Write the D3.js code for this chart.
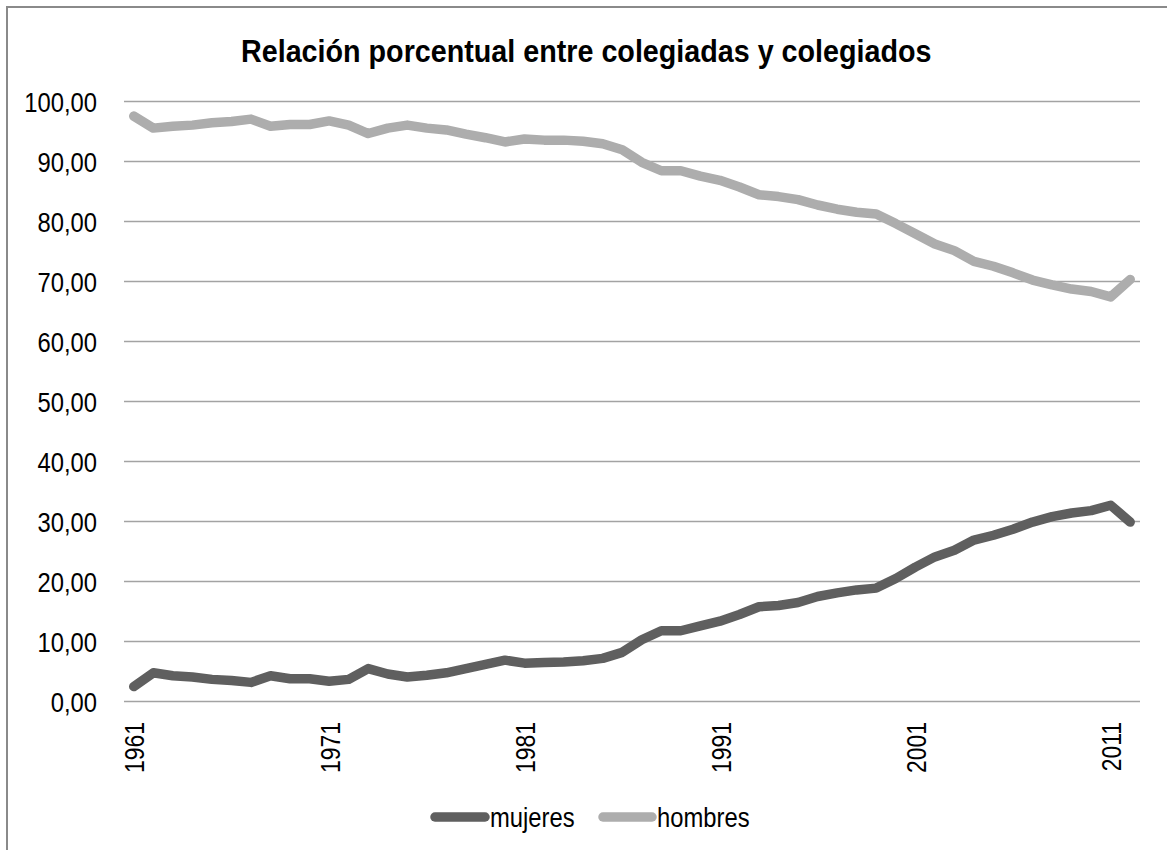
<!DOCTYPE html>
<html>
<head>
<meta charset="utf-8">
<script src="https://cdn.jsdelivr.net/npm/d3@7"></script>
<style>
  html, body { margin: 0; padding: 0; background: #fff; }
  svg { display: block; }
  text { font-family: "Liberation Sans", Arial, sans-serif; fill: #000; }
</style>
</head>
<body>
<div id="chart"></div>
<script>
// ====================
// Data
// ====================
const years = [1961, 1962, 1963, 1964, 1965, 1966, 1967, 1968, 1969, 1970,
               1971, 1972, 1973, 1974, 1975, 1976, 1977, 1978, 1979, 1980,
               1981, 1982, 1983, 1984, 1985, 1986, 1987, 1988, 1989, 1990,
               1991, 1992, 1993, 1994, 1995, 1996, 1997, 1998, 1999, 2000,
               2001, 2002, 2003, 2004, 2005, 2006, 2007, 2008, 2009, 2010,
               2011, 2012];

const mujeres = [2.4, 4.7, 4.2, 4.0, 3.6, 3.4, 3.1, 4.2, 3.7, 3.7,
                 3.3, 3.6, 5.4, 4.5, 4.0, 4.3, 4.7, 5.4, 6.1, 6.8,
                 6.3, 6.4, 6.5, 6.7, 7.1, 8.1, 10.2, 11.7, 11.7, 12.5,
                 13.3, 14.4, 15.7, 15.9, 16.4, 17.4, 18.0, 18.5, 18.8, 20.4,
                 22.3, 24.0, 25.1, 26.8, 27.6, 28.6, 29.8, 30.7, 31.3, 31.7,
                 32.6, 29.8];

const hombres = [97.4, 95.4, 95.7, 95.9, 96.3, 96.5, 96.9, 95.7, 96.0, 96.0,
                 96.6, 95.9, 94.5, 95.4, 95.9, 95.4, 95.1, 94.4, 93.8, 93.1,
                 93.6, 93.4, 93.4, 93.2, 92.8, 91.8, 89.7, 88.3, 88.3, 87.4,
                 86.7, 85.6, 84.3, 84.0, 83.5, 82.6, 81.9, 81.4, 81.1, 79.5,
                 77.8, 76.1, 75.0, 73.2, 72.4, 71.3, 70.1, 69.3, 68.6, 68.2,
                 67.3, 70.2];

const yTicks = [0, 10, 20, 30, 40, 50, 60, 70, 80, 90, 100];
const xTickYears = [1961, 1971, 1981, 1991, 2001, 2011];

const seriesNames = ["mujeres", "hombres"];
const seriesColors = ["#5f5f5f", "#adadad"];

const titleText = "Relación porcentual entre colegiadas y colegiados";

// ====================
// Layout
// ====================
const width = 1167, height = 850;
const plot = { left: 124, right: 1140, top: 100.5, bottom: 701 };
const narrow = 0.85;   // labels look like a condensed face

const svg = d3.select("#chart")
    .append("svg")
    .attr("width", width)
    .attr("height", height);

// frame (runs off the right / bottom edges like the source)
svg.append("rect")
    .attr("x", 7).attr("y", 7)
    .attr("width", 1200).attr("height", 900)
    .attr("fill", "#fff")
    .attr("stroke", "#8a8a8a")
    .attr("stroke-width", 2);

// scales
const x = d3.scaleBand()
    .domain(years)
    .range([plot.left, plot.right]);

const y = d3.scaleLinear()
    .domain([0, 100])
    .range([plot.bottom, plot.top]);

const cx = d => x(d) + x.bandwidth() / 2;

// number format with comma decimals
const esLocale = d3.formatLocale({ decimal: ",", thousands: ".", grouping: [3], currency: ["", " €"] });
const fmt = esLocale.format(".2f");

// gridlines
svg.append("g")
    .attr("class", "grid")
    .selectAll("line")
    .data(yTicks)
    .join("line")
    .attr("x1", plot.left)
    .attr("x2", plot.right)
    .attr("y1", d => Math.round(y(d)) + 0.5)
    .attr("y2", d => Math.round(y(d)) + 0.5)
    .attr("stroke", "#a3a3a3")
    .attr("stroke-width", 1.5);

// y axis labels
const yAxis = svg.append("g")
    .attr("transform", `translate(${plot.left},0)`)
    .call(d3.axisLeft(y).tickValues(yTicks).tickFormat(fmt).tickSize(0).tickPadding(0));
yAxis.select(".domain").remove();
yAxis.selectAll(".tick text")
    .attr("x", null).attr("dy", null)
    .attr("font-size", 28)
    .attr("font-family", "Liberation Sans, Arial, sans-serif")
    .attr("fill", "#000")
    .attr("text-anchor", "end")
    .attr("dominant-baseline", "central")
    .attr("transform", `translate(-27,1) scale(${narrow},1)`);

// x axis labels (rotated)
const xAxis = svg.append("g")
    .attr("transform", `translate(0,${plot.bottom})`)
    .call(d3.axisBottom(x).tickValues(xTickYears).tickSize(0).tickPadding(0));
xAxis.select(".domain").remove();
xAxis.selectAll(".tick text")
    .attr("y", null).attr("dy", null)
    .attr("font-size", 27)
    .attr("font-family", "Liberation Sans, Arial, sans-serif")
    .attr("fill", "#000")
    .attr("text-anchor", "end")
    .attr("dominant-baseline", "central")
    .attr("transform", `translate(1,21) rotate(-90) scale(${narrow},1)`);

// lines
const line = d3.line()
    .x((d, i) => cx(years[i]))
    .y(d => y(d));

[mujeres, hombres].forEach((vals, k) => {
    svg.append("path")
        .datum(vals)
        .attr("d", line)
        .attr("fill", "none")
        .attr("stroke", seriesColors[k])
        .attr("stroke-width", 9.5)
        .attr("stroke-linejoin", "round")
        .attr("stroke-linecap", "round");
});

// title, squeezed to the width seen in the source
const title = svg.append("text")
    .attr("font-size", 31)
    .attr("font-weight", "bold")
    .attr("text-anchor", "start")
    .text(titleText);
const tLen = title.node().getComputedTextLength();
const tScale = 691 / tLen;
title.attr("transform", `translate(241,62) scale(${tScale},1)`);

// legend
const legend = svg.append("g").attr("class", "legend");
const legendItems = [
    { name: seriesNames[0], color: seriesColors[0], x0: 435, x1: 485, tx: 490 },
    { name: seriesNames[1], color: seriesColors[1], x0: 603, x1: 652, tx: 657 }
];
const legendY = 817;
legendItems.forEach(d => {
    legend.append("line")
        .attr("x1", d.x0).attr("x2", d.x1)
        .attr("y1", legendY).attr("y2", legendY)
        .attr("stroke", d.color)
        .attr("stroke-width", 9.5)
        .attr("stroke-linecap", "round");
    legend.append("text")
        .attr("font-size", 28)
        .attr("dominant-baseline", "central")
        .attr("transform", `translate(${d.tx},${legendY}) scale(${narrow},1)`)
        .text(d.name);
});
</script>
</body>
</html>
